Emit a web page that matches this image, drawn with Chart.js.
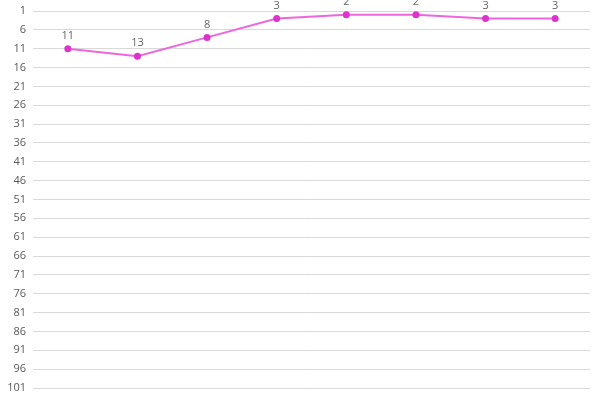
<!DOCTYPE html>
<html><head><meta charset="utf-8">
<script src="https://cdn.jsdelivr.net/npm/chart.js@4"></script>
<style>html,body{margin:0;padding:0;background:#fff}#c{width:600px;height:400px}</style>
</head><body>
<div id="c"><canvas id="chart" width="600" height="400"></canvas></div>
<script>
const categories = ["1","2","3","4","5","6","7","8"];
const ranks = [11, 13, 8, 3, 2, 2, 3, 3];
const yMin = 1, yMax = 101, yStep = 5;

const labelPlugin = {
  id: 'pointLabels',
  afterDatasetsDraw(chart) {
    const ctx = chart.ctx;
    const meta = chart.getDatasetMeta(0);
    ctx.save();
    ctx.font = '11px "Open Sans", "DejaVu Sans", sans-serif';
    ctx.fillStyle = '#666666';
    ctx.textAlign = 'center';
    ctx.textBaseline = 'middle';
    meta.data.forEach((pt, i) => {
      ctx.fillText(String(ranks[i]), pt.x, pt.y - 13);
    });
    ctx.restore();
  }
};

new Chart(document.getElementById('chart'), {
  type: 'line',
  data: {
    labels: categories,
    datasets: [{
      data: ranks,
      borderColor: '#ee66dd',
      borderWidth: 2,
      pointBackgroundColor: '#dd33cc',
      pointBorderColor: '#dd33cc',
      pointRadius: 2.5,
      tension: 0,
      clip: false
    }]
  },
  options: {
    responsive: false,
    animation: false,
    layout: { padding: { left: 0, right: 10, top: 11, bottom: 12 } },
    plugins: { legend: { display: false }, tooltip: { enabled: false } },
    scales: {
      x: { display: false, offset: true },
      y: {
        reverse: true, min: yMin, max: yMax,
        ticks: { stepSize: yStep, color: '#595959', font: { size: 11, family: '"Open Sans", "DejaVu Sans", sans-serif' }, padding: 7 },
        grid: { color: '#d9d9d9', drawTicks: false },
        border: { display: false },
        afterFit(s) { s.width = 33; s.paddingTop = 0; s.paddingBottom = 0; }
      }
    }
  },
  plugins: [labelPlugin]
});
</script>
</body></html>
